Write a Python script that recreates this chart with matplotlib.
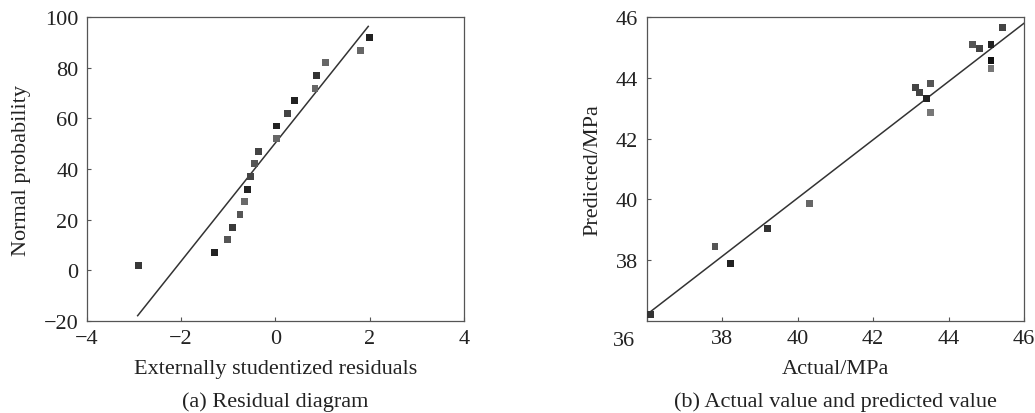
import numpy as np
import matplotlib
matplotlib.use('Agg')
import matplotlib.pyplot as plt

plt.rcParams['font.family'] = ['Liberation Serif', 'DejaVu Serif']
plt.rcParams['font.size'] = 16

# (a) normal probability plot of residuals
resid = [-2.91, -1.30, -1.01, -0.91, -0.75, -0.65, -0.59, -0.53, -0.45, -0.36,
         0.02, 0.02, 0.25, 0.41, 0.84, 0.87, 1.07, 1.80, 1.99]
prob = [2, 7, 12, 17, 22, 27, 32, 37, 42, 47, 52, 57, 62, 67, 72, 77, 82, 87, 92]
shade_a = ['#383838', '#222222', '#555555', '#3a3a3a', '#555555', '#6a6a6a', '#222222',
           '#444444', '#555555', '#444444', '#666666', '#222222', '#444444', '#222222',
           '#666666', '#333333', '#666666', '#666666', '#222222']
fit_a_x = [-2.92, 1.97]
fit_a_y = [-18.0, 96.4]

# (b) actual vs predicted
actual = [36.11, 37.81, 38.22, 39.20, 40.31, 43.12, 43.22, 43.42, 43.52, 43.52,
          44.62, 44.82, 45.12, 45.12, 45.12, 45.42]
predicted = [36.20, 38.45, 37.90, 39.04, 39.87, 43.70, 43.52, 43.32, 43.82, 42.85,
             45.10, 44.98, 45.10, 44.59, 44.31, 45.65]
shade_b = ['#333333', '#555555', '#222222', '#333333', '#666666', '#444444', '#444444',
           '#222222', '#555555', '#777777', '#555555', '#444444', '#222222', '#111111',
           '#777777', '#444444']
fit_b_x = [36.05, 46.0]
fit_b_y = [36.25, 45.81]

fig = plt.figure(figsize=(10.35, 4.14), dpi=100)
ax1 = fig.add_axes([0.0838, 0.2229, 0.3645, 0.7329])
ax2 = fig.add_axes([0.6248, 0.2229, 0.3648, 0.7329])


def style(ax):
    for s in ax.spines.values():
        s.set_color('#555555')
        s.set_linewidth(0.9)
    ax.tick_params(direction='in', length=3, width=0.8, color='#555555',
                   labelcolor='#222222', pad=6, top=False, right=False)


# left panel
ax1.plot(fit_a_x, fit_a_y, color='#333333', lw=1.1)
ax1.scatter(resid, prob, marker='s', s=25, c=shade_a, linewidths=0, zorder=3)
ax1.set_xlim(-4, 4)
ax1.set_ylim(-20, 100)
ax1.set_xticks([-4, -2, 0, 2, 4])
ax1.set_yticks([-20, 0, 20, 40, 60, 80, 100])
style(ax1)
ax1.set_xlabel('Externally studentized residuals', color='#222222', labelpad=8)
ax1.set_ylabel('Normal probability', color='#222222', labelpad=9)
ax1.text(0.5, -0.264, '(a) Residual diagram', transform=ax1.transAxes,
         ha='center', va='center', color='#222222')

# right panel
ax2.plot(fit_b_x, fit_b_y, color='#333333', lw=1.1)
ax2.scatter(actual, predicted, marker='s', s=25, c=shade_b, linewidths=0, zorder=3)
ax2.set_xlim(36, 46)
ax2.set_ylim(36, 46)
ax2.set_xticks([36, 38, 40, 42, 44, 46])
ax2.set_xticklabels(['', '38', '40', '42', '44', '46'])
ax2.set_yticks([38, 40, 42, 44, 46])
style(ax2)
ax2.annotate('36', xy=(0, 0), xycoords='axes fraction', xytext=(-16, -14),
             textcoords='offset points', ha='center', va='center', color='#222222')
ax2.set_xlabel('Actual/MPa', color='#222222', labelpad=8)
ax2.set_ylabel('Predicted/MPa', color='#222222', labelpad=10)
ax2.text(0.5, -0.264, '(b) Actual value and predicted value', transform=ax2.transAxes,
         ha='center', va='center', color='#222222')

fig.savefig('out.png', dpi=100)
